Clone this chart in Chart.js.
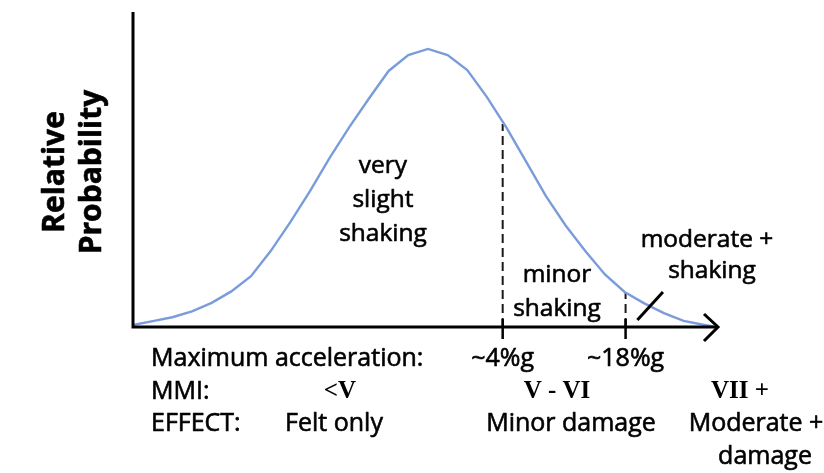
<!DOCTYPE html>
<html>
<head>
<meta charset="utf-8">
<script src="https://cdn.jsdelivr.net/npm/chart.js@4"></script>
<style>
  html, body { margin: 0; padding: 0; background: #fff; }
  #wrap { width: 824px; height: 473px; position: relative; }
</style>
</head>
<body>
<div id="wrap"><canvas id="shakeChart"></canvas></div>
<script>
// ground acceleration (axis units) and relative probability of each level
const accel = [0, 2, 4, 6, 8, 10, 12, 14, 16, 18, 20, 22, 24, 26, 28, 30,
               32, 34, 36, 38, 40, 42, 44, 46, 48, 50, 52, 54, 56, 58, 59];
const relProb = [0.7, 2.1, 3.5, 5.6, 8.7, 12.8, 18.3, 27.3, 37.7, 48.9, 60.8, 71.9, 82.2, 92.1, 97.8, 100,
                 97.8, 92.4, 82.7, 71.6, 59.4, 47.1, 36.5, 27.3, 18.9, 12.6, 8.5, 5.0, 2.2, 0.8, 0.2];

// damage thresholds on the acceleration axis
const thresholds = [37.6, 50.1];
const thresholdProb = [73, 12.6];
const thresholdLabels = ["~4%g", "~18%g"];

const rowLabels = ["Maximum acceleration:", "MMI:", "EFFECT:"];
const mmiLabels = ["<V", "V - VI", "VII +"];
const effectLabels = [["Felt only"], ["Minor damage"], ["Moderate +", "damage"]];

const X_MAX = 59.5;
const Y_MAX = 113.3;

const SANS = "'Open Sans', Lato, sans-serif";
const SERIF = "'Liberation Serif', 'DejaVu Serif', serif";

const thresholdSets = thresholds.map((x, i) => ({
    type: "line",
    data: [{ x: x, y: 0 }, { x: x, y: thresholdProb[i] }],
    borderColor: "#1a1a1a",
    borderWidth: 2,
    borderDash: [9, 5],
    pointRadius: 0,
}));

// filled text with a hairline outline so it reads a little heavier
function label(ctx, s, x, y) {
    ctx.fillText(s, x, y);
    ctx.strokeText(s, x, y);
}

const annotate = {
    id: "annotate",
    afterDraw(chart) {
        const { ctx, chartArea: a, scales } = chart;
        const xs = scales.x, ys = scales.y;
        const px = (v) => xs.getPixelForValue(v);
        const py = (v) => ys.getPixelForValue(v);
        const base = a.bottom;

        ctx.save();
        ctx.strokeStyle = "#000";
        ctx.lineCap = "butt";

        // axes
        ctx.lineWidth = 3;
        ctx.beginPath();
        ctx.moveTo(a.left, a.top);
        ctx.lineTo(a.left, base + 1.5);
        ctx.moveTo(a.left - 1.5, base);
        ctx.lineTo(a.right, base);
        ctx.stroke();

        // arrow head
        ctx.lineJoin = "miter";
        ctx.beginPath();
        ctx.moveTo(a.right - 14, base - 13);
        ctx.lineTo(a.right, base);
        ctx.lineTo(a.right - 14, base + 14);
        ctx.stroke();

        // tick marks at thresholds
        ctx.lineWidth = 2.5;
        thresholds.forEach((t) => {
            ctx.beginPath();
            ctx.moveTo(px(t), base - 8);
            ctx.lineTo(px(t), base + 12);
            ctx.stroke();
        });

        // pointer to the tail region
        ctx.lineWidth = 3;
        ctx.beginPath();
        ctx.moveTo(px(51.3), py(2.5));
        ctx.lineTo(px(53.9), py(12.6));
        ctx.stroke();

        ctx.fillStyle = "#000";
        ctx.lineWidth = 0.6;
        ctx.lineJoin = "round";
        ctx.textBaseline = "middle";
        ctx.textAlign = "center";

        // region labels
        ctx.font = "24.5px " + SANS;
        ["very", "slight", "shaking"].forEach((s, i) => label(ctx, s, 383, 166 + i * 34));
        ["minor", "shaking"].forEach((s, i) => label(ctx, s, 557, 275 + i * 34));
        label(ctx, "moderate +", 707, 240);
        label(ctx, "shaking", 712, 271);

        // y axis title
        ctx.save();
        ctx.translate(55, 172);
        ctx.rotate(-Math.PI / 2);
        ctx.font = "bold 30px " + SANS;
        label(ctx, "Relative", 0, 0);
        label(ctx, "Probability", 0, 37);
        ctx.restore();

        // rows below the axis
        ctx.font = "25px " + SANS;
        ctx.textAlign = "left";
        label(ctx, rowLabels[0], 151, 359);
        label(ctx, rowLabels[1], 151, 392);
        label(ctx, rowLabels[2], 151, 424);

        ctx.textAlign = "center";
        thresholds.forEach((t, i) => label(ctx, thresholdLabels[i], px(t), 359));

        const colX = [340, 557, 740];
        ctx.font = "bold 25px " + SERIF;
        mmiLabels.forEach((s, i) => ctx.fillText(s, colX[i], 392));

        const effX = [334, 571, 756];
        ctx.font = "25px " + SANS;
        effectLabels.forEach((lines, i) => {
            lines.forEach((s, j) => label(ctx, s, effX[i] + (j ? 9 : 0), 424 + j * 33));
        });

        ctx.restore();
    },
};

new Chart(document.getElementById("shakeChart"), {
    type: "line",
    data: {
        datasets: [
            {
                label: "Relative Probability",
                data: accel.map((x, i) => ({ x: x, y: relProb[i] })),
                borderColor: "#7a9cdb",
                borderWidth: 2.4,
                pointRadius: 0,
                tension: 0,
            },
            ...thresholdSets,
        ],
    },
    options: {
        responsive: true,
        maintainAspectRatio: false,
        animation: false,
        layout: {
            padding: { left: 133, right: 106, top: 12, bottom: 146 },
        },
        plugins: {
            legend: { display: false },
            tooltip: { enabled: false },
        },
        scales: {
            x: { type: "linear", min: 0, max: X_MAX, display: false },
            y: { min: 0, max: Y_MAX, display: false },
        },
    },
    plugins: [annotate],
});
</script>
</body>
</html>
